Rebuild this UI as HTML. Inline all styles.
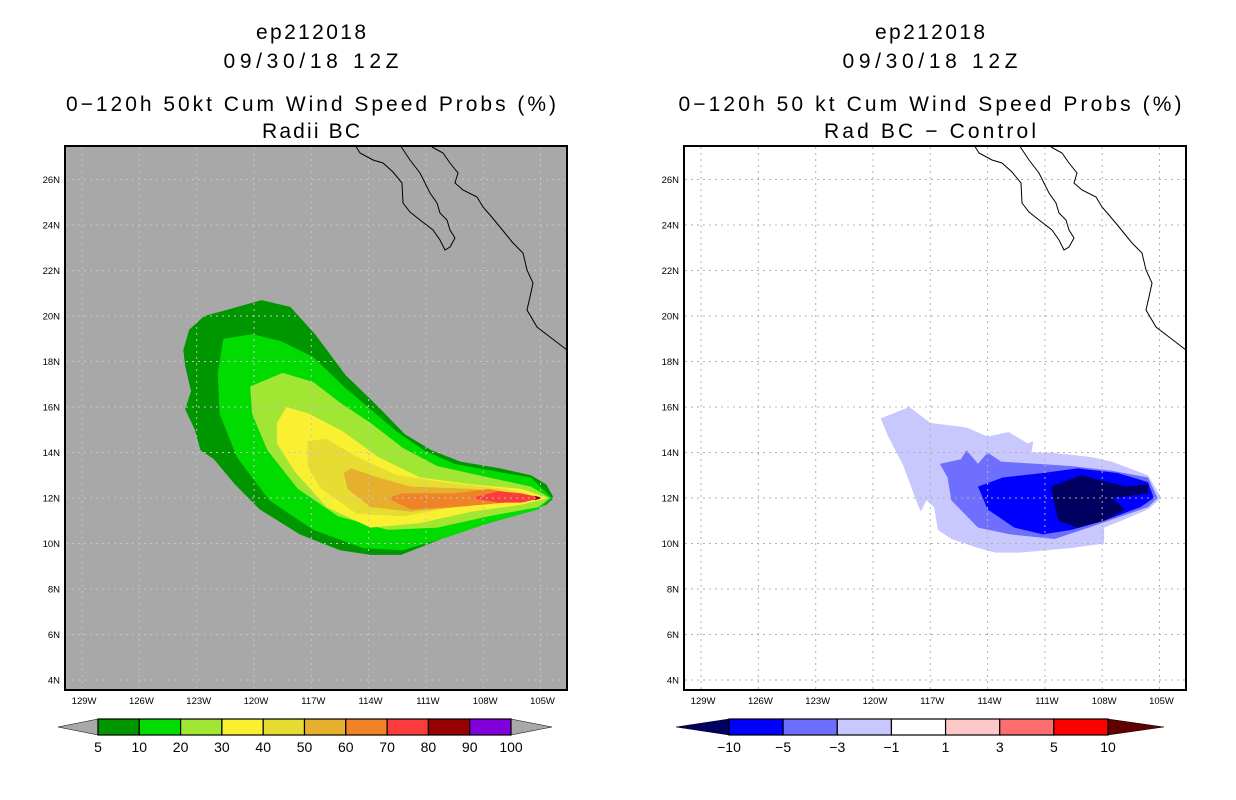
<!DOCTYPE html>
<html><head><meta charset="utf-8"><style>
html,body{margin:0;padding:0;background:#fff;width:1236px;height:800px;overflow:hidden}
svg text{font-family:"Liberation Sans",sans-serif}
</style></head><body>
<svg id="root" width="1236" height="800" viewBox="0 0 1236 800"></svg>
<script>
// ---- data ----
const lonTicks=[129,126,123,120,117,114,111,108,105];
const latTicks=[26,24,22,20,18,16,14,12,10,8,6,4];
const leftLevels=["5","10","20","30","40","50","60","70","80","90","100"];
const leftColors=["#009600","#00dc00","#a0e632","#faf032","#e6dc32","#e6af2d","#f08228","#fa3c3c","#960000","#8200dc"];
const rightLevels=["\u221210","\u22125","\u22123","\u22121","1","3","5","10"];
const rightColors=["#0000ff","#6e6eff","#c8c8ff","#ffffff","#ffc8c8","#ff6e6e","#ff0000"];
const leftContours=[
 [[123.7,18.5],[123.4,19.4],[122.6,20.0],[121.3,20.3],[119.6,20.7],[118.1,20.4],[116.8,19.2],[115.2,17.4],[113.6,16.1],[112.1,14.8],[110.7,14.1],[109.2,13.6],[107.1,13.3],[105.5,13.0],[104.7,12.6],[104.3,12.0],[104.7,11.7],[106.0,11.3],[108.1,10.8],[110.2,10.2],[112.3,9.5],[113.9,9.5],[115.5,9.7],[117.6,10.4],[119.7,11.5],[121.0,12.6],[122.1,13.7],[122.8,14.1],[123.1,15.0],[123.6,15.9],[123.3,16.7],[123.6,17.8]],
 [[121.6,19.0],[120.1,19.2],[118.6,18.9],[116.9,18.2],[115.3,16.9],[113.9,15.9],[112.5,14.9],[111.1,14.1],[109.5,13.5],[106.9,13.1],[105.5,12.9],[104.4,12.0],[105.1,11.5],[107.7,10.9],[109.8,10.3],[112.2,9.7],[114.3,9.8],[116.9,10.6],[119.2,11.9],[120.9,13.8],[121.8,15.7],[121.9,17.5]],
 [[120.2,16.9],[118.5,17.5],[116.9,17.1],[115.5,16.2],[113.9,15.3],[112.2,14.2],[110.4,13.4],[107.7,12.9],[105.5,12.5],[104.5,12.0],[105.1,11.6],[107.7,11.2],[110.4,10.7],[113.0,10.6],[115.6,11.2],[117.7,12.4],[119.3,14.1],[120.1,15.7]],
 [[118.8,15.3],[118.3,16.0],[117.1,15.7],[115.3,14.9],[113.5,13.8],[111.3,12.9],[108.6,12.6],[106.0,12.4],[104.6,12.0],[106.0,11.7],[108.6,11.4],[111.3,10.9],[113.9,10.7],[116.2,11.6],[117.9,13.2],[118.8,14.4]],
 [[117.2,14.5],[116.2,14.6],[114.6,13.8],[112.5,13.0],[110.1,12.7],[106.9,12.4],[104.8,12.0],[106.9,11.8],[109.5,11.6],[112.2,11.2],[114.6,11.3],[116.5,12.4],[117.2,13.4]],
 [[115.3,13.1],[114.9,13.3],[113.5,12.9],[111.8,12.5],[108.6,12.4],[105.1,12.0],[106.9,11.8],[109.5,11.6],[111.8,11.4],[113.9,11.6],[115.1,12.4]],
 [[113.0,12.0],[112.2,12.2],[109.5,12.2],[107.7,12.4],[105.1,12.0],[106.9,11.8],[109.5,11.6],[111.8,11.5]],
 [[108.6,12.0],[107.2,12.3],[106.0,12.2],[104.9,12.0],[106.0,11.8],[107.2,11.8]],
 [[105.3,12.1],[104.9,12.0],[105.3,11.9]]
];
const rightContours=[
 [[119.6,15.5],[118.1,16.0],[117.0,15.3],[115.1,15.1],[114.0,14.7],[112.9,14.9],[111.9,14.4],[111.6,14.5],[111.7,14.0],[110.7,14.0],[108.6,13.8],[107.5,13.6],[105.6,13.0],[104.9,12.0],[105.6,11.5],[107.0,11.0],[107.9,10.7],[107.9,10.0],[109.6,9.8],[112.3,9.6],[113.6,9.6],[114.5,9.8],[115.9,10.2],[116.6,10.6],[116.8,11.6],[117.2,11.9],[117.5,11.4],[117.7,11.8],[118.4,13.4],[119.2,14.7]],
 [[116.5,13.5],[115.4,13.7],[115.1,14.1],[114.5,13.5],[114.0,14.0],[113.3,13.6],[111.4,13.5],[109.6,13.4],[107.5,13.2],[105.6,12.9],[105.1,12.0],[105.6,11.6],[107.0,11.2],[108.7,10.7],[110.5,10.2],[112.8,10.4],[114.5,10.7],[115.9,11.9],[116.1,12.9]],
 [[114.5,12.5],[113.2,12.9],[111.1,13.1],[109.3,13.3],[107.2,13.1],[105.6,12.7],[105.3,12.0],[106.0,11.6],[107.9,11.0],[109.6,10.6],[111.1,10.4],[112.6,10.7],[114.0,11.5],[114.4,12.3]],
 [[110.7,12.5],[109.1,13.0],[106.8,12.5],[105.6,12.6],[105.6,12.2],[107.5,12.0],[106.8,11.5],[107.9,11.0],[109.3,10.7],[110.3,11.0]]
];
const rightContourColors=["#c8c8ff","#6e6eff","#0000ff","#000060"];
// ---- axes ----
const X0L=254, PX_PER_LON=19.1, Y0=498, PX_PER_LAT=22.75;
function xL(lonW,off){return off+X0L+(120-lonW)*PX_PER_LON;}
function yL(lat){return Y0-(lat-12)*PX_PER_LAT;}
const svg=document.getElementById('root');
const NS='http://www.w3.org/2000/svg';
function mk(tag,attrs,parent){const e=document.createElementNS(NS,tag);for(const k in attrs)e.setAttribute(k,attrs[k]);(parent||svg).appendChild(e);return e;}
const coastBaja="M355,145 L360,153 L373,160 L383,163 L393,172 L402,183 L403,203 L410,212 L420,220 L433,230 L440,240 L445,250 L450,247 L455,238 L450,230 L447,220 L440,213 L437,203 L430,193 L420,173 L410,160 L402,148 L400,145";
const coastMain="M432,147 L443,153 L450,163 L458,173 L455,183 L463,190 L477,197 L483,207 L490,215 L500,227 L513,243 L523,253 L527,270 L533,283 L530,297 L527,310 L537,327 L550,337 L567,350";
function panel(off,bg,contours,colors,gridCol,t2,t4,lens,name){
  const g=mk('g',{});
  
  
  const cx=off+311;
  [["ep212018",39,110],["09/30/18 12Z",68,175],[t2,111,lens[0]],[t4,138,lens[1]]].forEach((t,i)=>{
    const tx=mk('text',{x:cx,y:t[1],'text-anchor':'middle','font-size':'21',textLength:t[2],lengthAdjust:'spacing'},g);
    tx.textContent=t[0];
    
    
  });
  const bgr=mk('rect',{x:off+65,y:146,width:502,height:544,fill:bg},g);
  
  
  contours.forEach((poly,i)=>{
    const p=mk('polygon',{points:poly.map(q=>xL(q[0],off).toFixed(1)+','+yL(q[1]).toFixed(1)).join(' '),fill:colors[i]},g);
    
    
  });
  lonTicks.forEach(l=>{
    const x=xL(l,off);
    const ln=mk('line',{x1:x,y1:147,x2:x,y2:689,stroke:gridCol,'stroke-width':1,'stroke-dasharray':'2,4'},g);
    
    
    const t=mk('text',{x:x+2,y:704,'text-anchor':'middle','font-size':'9.5'},g);t.textContent=l+'W';
    
    
  });
  latTicks.forEach(l=>{
    const y=yL(l);
    const ln=mk('line',{x1:off+66,y1:y,x2:off+566,y2:y,stroke:gridCol,'stroke-width':1,'stroke-dasharray':'2,4'},g);
    
    
    const t=mk('text',{x:off+60,y:y+3.5,'text-anchor':'end','font-size':'9.5'},g);t.textContent=l+'N';
    
    
  });
  const cst=mk('path',{d:coastBaja+' '+coastMain,fill:'none',stroke:'#000','stroke-width':1,transform:'translate('+off+',0)'},g);
  
  
  const fr=mk('rect',{x:off+65,y:146,width:502,height:544,fill:'none',stroke:'#000','stroke-width':2},g);
  
  
}
panel(0,'#a8a8a8',leftContours,leftColors,'#c4c4c4','0\u2212120h 50kt Cum Wind Speed Probs (%)','Radii BC',[490,98],'left-panel');
panel(619,'#ffffff',rightContours,rightContourColors,'#b0b0b0','0\u2212120h 50 kt Cum Wind Speed Probs (%)','Rad BC \u2212 Control',[503,212],'right-panel');
function colorbar(x0,x1,tipL,tipR,colors,labels,triL,triR,name){
  const g=mk('g',{});
  
  
  const y0=719,y1=735,ym=727,w=(x1-x0)/colors.length;
  const a=mk('polygon',{points:`${tipL},${ym} ${x0},${y0} ${x0},${y1}`,fill:triL,stroke:'#000','stroke-width':0.5},g);
  
  
  const b=mk('polygon',{points:`${tipR},${ym} ${x1},${y0} ${x1},${y1}`,fill:triR,stroke:'#000','stroke-width':0.5},g);
  
  
  colors.forEach((c,i)=>{
    const r=mk('rect',{x:x0+i*w,y:y0,width:w,height:y1-y0,fill:c,stroke:'#000','stroke-width':1.2},g);
    
    
  });
  labels.forEach((l,i)=>{
    const t=mk('text',{x:x0+i*w,y:752,'text-anchor':'middle','font-size':'14'},g);t.textContent=l;
    
    
  });
}
colorbar(98,511,58,552,leftColors,leftLevels,'#a8a8a8','#a8a8a8','left-colorbar');
colorbar(729,1108,676,1164,rightColors,rightLevels,'#000060','#600000','right-colorbar');
</script>
</body></html>
